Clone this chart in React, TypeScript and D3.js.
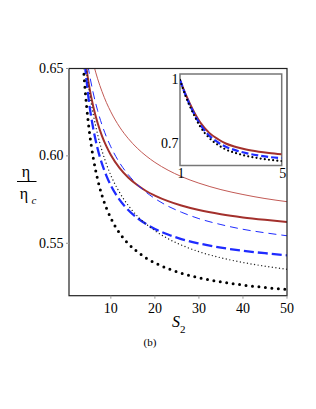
import React from "react";
import * as d3 from "d3";

// Main chart series: [S2, eta/eta_c]
const thinRed: [number, number][] = [
  [6.2, 0.6511], [7, 0.6441], [8, 0.6368], [9, 0.6305], [10, 0.6252], [12, 0.6165], [14, 0.6098],
  [16, 0.6044], [18, 0.6], [20, 0.5963], [23, 0.5918], [26, 0.5882], [30, 0.5844], [35, 0.5807],
  [40, 0.5779], [45, 0.5756], [50, 0.5738],
];
const thickRed: [number, number][] = [
  [4.3, 0.6529], [5, 0.6411], [6, 0.6283], [7, 0.6188], [8, 0.6113], [9, 0.6054], [10, 0.6005],
  [12, 0.593], [14, 0.5875], [16, 0.5833], [18, 0.5799], [20, 0.5773], [23, 0.5741], [26, 0.5716],
  [30, 0.569], [35, 0.5666], [40, 0.5648], [45, 0.5634], [50, 0.5622],
];
const thinBlue: [number, number][] = [
  [4.8, 0.6516], [5, 0.6487], [6, 0.636], [7, 0.6259], [8, 0.6177], [9, 0.6109], [10, 0.6052],
  [12, 0.596], [14, 0.5891], [16, 0.5836], [18, 0.5792], [20, 0.5756], [23, 0.5712], [26, 0.5678],
  [30, 0.5641], [35, 0.5607], [40, 0.558], [45, 0.556], [50, 0.5543],
];
const thickBlue: [number, number][] = [
  [4.1, 0.6526], [5, 0.6317], [6, 0.6157], [7, 0.6041], [8, 0.5954], [9, 0.5886], [10, 0.5831],
  [12, 0.5748], [14, 0.5689], [16, 0.5645], [18, 0.561], [20, 0.5582], [23, 0.555], [26, 0.5524],
  [30, 0.5499], [35, 0.5475], [40, 0.5457], [45, 0.5443], [50, 0.5431],
];
const thinBlack: [number, number][] = [
  [4.3, 0.6522], [5, 0.6389], [6, 0.6239], [7, 0.6123], [8, 0.6029], [9, 0.5953], [10, 0.5889],
  [12, 0.579], [14, 0.5715], [16, 0.5656], [18, 0.561], [20, 0.5572], [23, 0.5526], [26, 0.549],
  [30, 0.5452], [35, 0.5417], [40, 0.539], [45, 0.5369], [50, 0.5351],
];
const thickBlack: [number, number][] = [
  [3.6, 0.6579], [4, 0.643], [4.5, 0.6283], [5, 0.6165], [6, 0.599], [7, 0.5866], [8, 0.5773],
  [9, 0.5701], [10, 0.5644], [12, 0.5558], [14, 0.5497], [16, 0.5452], [18, 0.5416], [20, 0.5388],
  [23, 0.5355], [26, 0.5329], [30, 0.5303], [35, 0.5279], [40, 0.5261], [45, 0.5247], [50, 0.5236],
];

// Inset series
const insetRed: [number, number][] = [
  [1, 1.0], [1.25, 0.925], [1.5, 0.862], [1.8, 0.8], [2.15, 0.752], [2.5, 0.722], [2.8, 0.702],
  [3.2, 0.686], [3.6, 0.674], [4.1, 0.664], [4.5, 0.658], [5, 0.652],
];
const insetBlue: [number, number][] = [
  [1, 1.0], [1.25, 0.92], [1.5, 0.855], [1.8, 0.79], [2.15, 0.739], [2.5, 0.707], [2.8, 0.687],
  [3.2, 0.67], [3.6, 0.657], [4.1, 0.646], [4.5, 0.639], [5, 0.633],
];
const insetBlack: [number, number][] = [
  [1, 1.0], [1.25, 0.915], [1.5, 0.848], [1.8, 0.78], [2.15, 0.728], [2.5, 0.695], [2.8, 0.674],
  [3.2, 0.657], [3.6, 0.644], [4.1, 0.633], [4.5, 0.626], [5, 0.62],
];

const xTicks = [10, 20, 30, 40, 50];
const yTicks = [0.55, 0.6, 0.65];
const yTickLabels = ["0.55", "0.60", "0.65"];
const insetXTicks = [1, 5];
const insetYTicks = [0.7, 1];
const insetYTickLabels = ["0.7", "1"];

const FONT = "Liberation Serif";

export default function App() {
  const left = 69, right = 287, top = 68.5, bottom = 295.7;
  const x = d3.scaleLinear().domain([0.5, 50]).range([left, right]);
  const y = d3.scaleLinear().domain([0.52, 0.65]).range([bottom, top]);
  const line = d3
    .line<[number, number]>()
    .x((d) => x(d[0]))
    .y((d) => y(d[1]))
    .curve(d3.curveMonotoneX);

  const iL = 180, iR = 281.7, iT = 74, iB = 165.5;
  const ix = d3.scaleLinear().domain([1, 5]).range([iL, iR]);
  const iy = d3.scaleLinear().domain([0.599, 1.028]).range([iB, iT]);
  const iline = d3
    .line<[number, number]>()
    .x((d) => ix(d[0]))
    .y((d) => iy(d[1]))
    .curve(d3.curveMonotoneX);

  const redThick = "#a3302c";
  const redThin = "#c25a55";
  const blue = "#1f2bff";
  const ts = { fontFamily: FONT };

  return (
    <svg width={316} height={409} style={{ position: "absolute", left: 0, top: 0, background: "#fff" }}>
      <defs>
        <clipPath id="mainClip">
          <rect x={left} y={top} width={right - left} height={bottom - top} />
        </clipPath>
        <clipPath id="insetClip">
          <rect x={iL} y={iT} width={iR - iL} height={iB - iT} />
        </clipPath>
      </defs>
      <g clipPath="url(#mainClip)" fill="none">
        <path d={line(thinRed) || ""} stroke={redThin} strokeWidth={1} />
        <path d={line(thickRed) || ""} stroke={redThick} strokeWidth={2} />
        <path d={line(thinBlue) || ""} stroke={blue} strokeWidth={1} strokeDasharray="8 5" />
        <path d={line(thickBlue) || ""} stroke={blue} strokeWidth={2.3} strokeDasharray="10 4" />
        <path d={line(thinBlack) || ""} stroke="#222" strokeWidth={1.4} strokeDasharray="0 3.6" strokeLinecap="round" />
        <path d={line(thickBlack) || ""} stroke="#000" strokeWidth={3} strokeDasharray="0 6.5" strokeLinecap="round" />
      </g>
      <rect x={left} y={top} width={right - left} height={bottom - top} fill="none" stroke="#222" strokeWidth={1.2} />
      {xTicks.map((t) => (
        <g key={"xt" + t}>
          <line x1={x(t)} x2={x(t)} y1={bottom} y2={bottom + 3} stroke="#999" strokeWidth={1} />
          <text x={x(t)} y={313} textAnchor="middle" fontSize={14} style={ts}>
            {t}
          </text>
        </g>
      ))}
      {yTicks.map((t, i) => (
        <g key={"yt" + t}>
          <line x1={left - 3} x2={left} y1={y(t)} y2={y(t)} stroke="#999" strokeWidth={1} />
          <text x={63.5} y={y(t) + 4.5} textAnchor="end" fontSize={14} style={ts}>
            {yTickLabels[i]}
          </text>
        </g>
      ))}
      <rect x={iL} y={iT} width={iR - iL} height={iB - iT} fill="#fff" stroke="#777" strokeWidth={1.5} />
      <g clipPath="url(#insetClip)" fill="none">
        <path d={iline(insetRed) || ""} stroke={redThick} strokeWidth={2} />
        <path d={iline(insetBlue) || ""} stroke={blue} strokeWidth={2.2} strokeDasharray="7 3" />
        <path d={iline(insetBlack) || ""} stroke="#000" strokeWidth={2.2} strokeDasharray="0 4.2" strokeLinecap="round" />
      </g>
      {insetXTicks.map((t) => (
        <text key={"ix" + t} x={ix(t) + 1} y={178} textAnchor="middle" fontSize={14} style={ts}>
          {t}
        </text>
      ))}
      {insetYTicks.map((t, i) => (
        <text key={"iy" + t} x={178.5} y={iy(t) + 4.5} textAnchor="end" fontSize={14} style={ts}>
          {insetYTickLabels[i]}
        </text>
      ))}
      <text x={172} y={327} fontSize={16} fontStyle="italic" style={ts}>
        S
      </text>
      <text x={180} y={333} fontSize={11} style={ts}>
        2
      </text>
      <text x={26} y={176.5} textAnchor="middle" fontSize={16} style={ts}>
        η
      </text>
      <line x1={17} x2={36.5} y1={181.5} y2={181.5} stroke="#000" strokeWidth={1} />
      <text x={24} y={199} textAnchor="middle" fontSize={16} style={ts}>
        η
      </text>
      <text x={31.5} y={204} fontSize={11} fontStyle="italic" style={ts}>
        c
      </text>
      <text x={150} y={346} textAnchor="middle" fontSize={11} style={ts}>
        (b)
      </text>
    </svg>
  );
}
